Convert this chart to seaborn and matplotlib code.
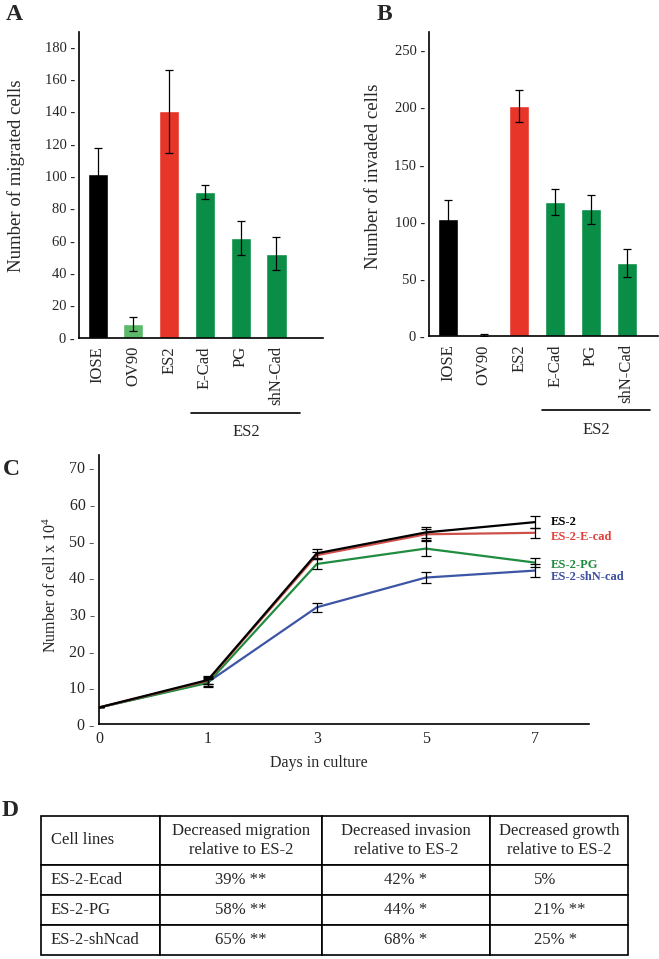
import numpy as np
import pandas as pd
import matplotlib.pyplot as plt
import seaborn as sns
from matplotlib.table import Table

sns.set_style("white")
plt.rcParams["font.family"] = ["Liberation Serif", "DejaVu Serif"]
plt.rcParams["mathtext.default"] = "regular"

# ----------------------------------------------------------------------
# data
# ----------------------------------------------------------------------
cells = ["IOSE", "OV90", "ES2", "E-Cad", "PG", "shN-Cad"]
bar_colors = ["#000000", "#5cb96a", "#e8352a", "#0a8d46", "#0a8d46", "#0a8d46"]
migrated = [101, 8.5, 140, 90, 61.5, 52]
migrated_err = [16, 4.5, 25.5, 4.2, 10.5, 10]
invaded = [102, 1, 201, 117.5, 111, 64]
invaded_err = [17, 1, 14, 11.5, 12.8, 12.5]

days = ["0", "1", "3", "5", "7"]
growth_lines = ["ES-2", "ES-2-E-cad", "ES-2-PG", "ES-2-shN-cad"]
line_colors = ["#000000", "#cf5049", "#1f8c3f", "#3c55a5"]
label_colors = ["#000000", "#e0413a", "#1f8a3f", "#3d4fa0"]
es2 = [4.5, 12.0, 46.5, 52.2, 55.0]
es2_ecad = [4.5, 11.8, 46.0, 51.7, 52.1]
es2_pg = [4.5, 11.2, 43.6, 47.8, 44.0]
es2_shn = [4.5, 11.4, 31.8, 39.9, 41.8]
es2_err = [0, 1.0, 1.2, 1.5, 1.7]
es2_ecad_err = [0, 1.0, 1.0, 1.5, 1.3]
es2_pg_err = [0, 1.0, 1.3, 2.0, 1.3]
es2_shn_err = [0, 1.0, 1.3, 1.4, 1.8]

table_header = ["Cell lines", "Decreased migration\nrelative to ES-2",
                "Decreased invasion\nrelative to ES-2",
                "Decreased growth\nrelative to ES-2"]
table_rows = [["ES-2-Ecad", "39% **", "42% *", "5%"],
              ["ES-2-PG", "58% **", "44% *", "21% **"],
              ["ES-2-shNcad", "65% **", "68% *", "25% *"]]

# ----------------------------------------------------------------------
# figure
# ----------------------------------------------------------------------
W, H = 659, 959
fig = plt.figure(figsize=(W / 100, H / 100), dpi=100)


def px_axes(l, t, r, b):
    return fig.add_axes([l / W, 1 - b / H, (r - l) / W, (b - t) / H])


def style_axes(ax, fs):
    sns.despine(ax=ax)
    for s in ("left", "bottom"):
        ax.spines[s].set_color("black")
        ax.spines[s].set_linewidth(1.2)
    ax.tick_params(axis="y", length=0, pad=3, labelsize=fs)


def bar_panel(ax, vals, errs, ylim, yticks, ylabel, xlim, lab_x, lab_y):
    sns.barplot(x=cells, y=vals, hue=cells, palette=bar_colors, legend=False,
                width=0.56, saturation=1, ax=ax)
    ax.errorbar(np.arange(len(cells)), vals, yerr=errs, fmt="none",
                ecolor="black", elinewidth=0.9, capsize=3.2, capthick=0.9)
    ax.set_xlim(*xlim)
    ax.set_ylim(*ylim)
    ax.set_yticks(yticks, labels=[f"{t} -" for t in yticks])
    style_axes(ax, 10.5)
    ax.tick_params(axis="x", length=0, pad=6, labelsize=12, rotation=90)
    ax.set_xlabel("")
    ax.set_ylabel(ylabel, fontsize=13.5)
    ax.yaxis.set_label_coords(lab_x, lab_y)
    tr = ax.get_xaxis_transform()
    ax.plot([2.62, 5.67], [-0.245, -0.245], transform=tr, color="black",
            lw=1.2, clip_on=False)
    ax.text(4.15, -0.31, "ES2", transform=tr, ha="center", va="center",
            fontsize=12)


# A - migration
axA = px_axes(79, 32, 323, 337.7)
bar_panel(axA, migrated, migrated_err, (0, 189), list(range(0, 181, 20)),
          "Number of migrated cells", (-0.52, 6.3), -0.22, 0.53)

# B - invasion
axB = px_axes(429, 32, 658, 336)
bar_panel(axB, invaded, invaded_err, (0, 266), list(range(0, 251, 50)),
          "Number of invaded cells", (-0.53, 5.88), -0.205, 0.526)

# C - growth curve
axC = px_axes(99, 455, 589, 724)
series = [es2, es2_ecad, es2_pg, es2_shn]
series_err = [es2_err, es2_ecad_err, es2_pg_err, es2_shn_err]
pos = np.arange(len(days))
growth = pd.DataFrame({
    "pos": np.tile(pos, len(growth_lines)),
    "cells": np.concatenate(series),
    "line": np.repeat(growth_lines, len(days)),
})
sns.lineplot(data=growth, x="pos", y="cells", hue="line",
             hue_order=growth_lines[::-1],
             palette=dict(zip(growth_lines, line_colors)),
             lw=1.6, legend=False, ax=axC)
for vals, errs in zip(series[::-1], series_err[::-1]):
    axC.errorbar(pos, vals, yerr=errs, fmt="none", ecolor="black",
                 elinewidth=0.9, capsize=3.5, capthick=0.9)
label_y = [55.0, 51.0, 43.4, 40.0]
for name, col, y in zip(growth_lines, label_colors, label_y):
    axC.text(pos[-1] + 0.15, y, name, color=col, fontsize=9,
             fontweight="bold", va="center", ha="left")
axC.set_xlim(0, 4.5)
axC.set_ylim(0, 73.3)
axC.set_xticks(pos, labels=days)
axC.set_yticks(range(0, 71, 10), labels=[f"{t} -" for t in range(0, 71, 10)])
style_axes(axC, 11.5)
axC.tick_params(axis="x", length=0, pad=5, labelsize=11.5)
axC.set_xlabel("Days in culture", fontsize=11.5)
axC.xaxis.set_label_coords(0.449, -0.115)
axC.set_ylabel("Number of cell x 10$^{4}$", fontsize=11.5)
axC.yaxis.set_label_coords(-0.08, 0.517)

# D - table
axD = px_axes(41, 816, 628, 955)
axD.set_axis_off()
col_w = [119, 162, 168, 138]
row_h = [49, 30, 30, 30]
tb = Table(axD, bbox=[0, 0, 1, 1])
for r, row in enumerate([table_header] + table_rows):
    for c, txt in enumerate(row):
        loc = "left" if c == 0 or (c == 3 and r > 0) else "center"
        cell = tb.add_cell(r, c, width=col_w[c], height=row_h[r], text=txt,
                           loc=loc, edgecolor="black", facecolor="white")
        cell.set_linewidth(1.2)
        if c == 0:
            cell.PAD = 0.08
        elif c == 3 and r > 0:
            cell.PAD = 0.32
tb.auto_set_font_size(False)
tb.set_fontsize(12)
axD.add_table(tb)

# panel letters
for letter, x, y in [("A", 6, 4), ("B", 377, 4), ("C", 3, 459), ("D", 2, 800)]:
    fig.text(x / W, 1 - y / H, letter, fontsize=17, fontweight="bold",
             ha="left", va="top")

fig.savefig("out.png", dpi=100)
